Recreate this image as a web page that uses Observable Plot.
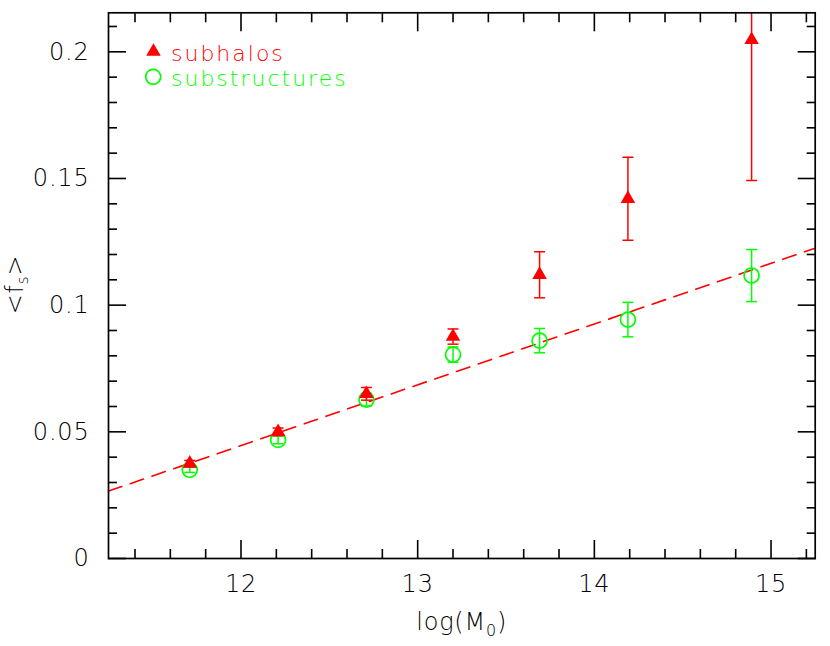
<!DOCTYPE html>
<html><head><meta charset="utf-8">
<script src="https://cdn.jsdelivr.net/npm/d3@7"></script>
<script src="https://cdn.jsdelivr.net/npm/@observablehq/plot@0.6"></script>
<style>
html,body{margin:0;padding:0;background:#fff}
svg{display:block}
</style>
</head><body><div id="chart"></div>
<script>
// ---- data ----
const massBins      = [11.71, 12.21, 12.71, 13.20, 13.69, 14.19, 14.89];
const subhaloFs     = [0.0375, 0.0500, 0.0650, 0.0876, 0.1120, 0.1420, 0.2047];
const subhaloErr    = [0.0012, 0.0015, 0.0025, 0.0030, 0.0091, 0.0164, 0.0555];
const substructFs   = [0.0350, 0.0468, 0.0627, 0.0805, 0.0860, 0.0943, 0.1117];
const substructErr  = [0.0010, 0.0015, 0.0025, 0.0030, 0.0048, 0.0068, 0.0103];
const fitX = [11.25, 15.25];
const fitY = [0.0266, 0.1225];
const xDomain = [11.25, 15.25];
const yDomain = [0, 0.2154];
const xMajorTicks = [12, 13, 14, 15];
const xTickLabels = ["12", "13", "14", "15"];
const xMinorTicks = [11.4, 11.6, 11.8, 12.2, 12.4, 12.6, 12.8, 13.2, 13.4, 13.6, 13.8, 14.2, 14.4, 14.6, 14.8, 15.2];
const yMajorTicks = [0, 0.05, 0.1, 0.15, 0.2];
const yTickLabels = ["0", "0.05", "0.1", "0.15", "0.2"];
const yMinorTicks = [0.01, 0.02, 0.03, 0.04, 0.06, 0.07, 0.08, 0.09, 0.11, 0.12, 0.13, 0.14, 0.16, 0.17, 0.18, 0.19, 0.21];
const legendLabels = ["subhalos", "substructures"];
const RED = "#ff0000", GREEN = "#00ff00";

// ---- tables ----
const subhalos = massBins.map((x, i) => ({x, y: subhaloFs[i], e: subhaloErr[i]}));
const substructs = massBins.map((x, i) => ({x, y: substructFs[i], e: substructErr[i]}));
const fit = fitX.map((x, i) => ({x, y: fitY[i]}));

const FONT = "'DejaVu Sans', sans-serif";
const capSymbol = {draw(ctx, size) { const r = Math.sqrt(size / Math.PI); ctx.moveTo(-r, 0); ctx.lineTo(r, 0); }};

function errorMarks(data, color) {
  return [
    Plot.ruleX(data, {x: "x", y1: d => d.y - d.e, y2: d => d.y + d.e, stroke: color, strokeWidth: 1.5, clip: true}),
    Plot.dot(data, {x: "x", y: d => d.y - d.e, symbol: capSymbol, r: 5.5, stroke: color, fill: "none", strokeWidth: 1.5, clip: true}),
    Plot.dot(data, {x: "x", y: d => d.y + d.e, symbol: capSymbol, r: 5.5, stroke: color, fill: "none", strokeWidth: 1.5, clip: true})
  ];
}

const tickStyle = {stroke: "black", strokeWidth: 1.6, fill: "none", label: null};

const svg = Plot.plot({
  width: 830, height: 646,
  marginLeft: 108, marginRight: 15.3, marginTop: 12.3, marginBottom: 88,
  style: {fontFamily: FONT, background: "white", color: "black"},
  x: {domain: xDomain},
  y: {domain: yDomain},
  marks: [
    Plot.line(fit, {x: "x", y: "y", stroke: RED, strokeWidth: 1.6, strokeDasharray: "14,9"}),
    ...errorMarks(substructs, GREEN),
    Plot.dot(substructs, {x: "x", y: "y", r: 7.5, stroke: GREEN, fill: "none", strokeWidth: 1.7}),
    ...errorMarks(subhalos, RED),
    Plot.dot(subhalos, {x: "x", y: "y", symbol: "triangle", r: 5.4, fill: RED, stroke: "none", clip: true}),
    // legend
    Plot.dot([legendLabels[0]], {frameAnchor: "top-left", dx: 45, dy: 38.8, symbol: "triangle", r: 5.4, fill: RED, stroke: "none"}),
    Plot.dot([legendLabels[1]], {frameAnchor: "top-left", dx: 44.7, dy: 64, r: 7.5, stroke: GREEN, fill: "none", strokeWidth: 1.7}),
    Plot.text([legendLabels[0]], {frameAnchor: "top-left", dx: 62.5, dy: 33, text: d => d, textAnchor: "start", fill: RED, fontSize: 22, fontWeight: 200}),
    Plot.text([legendLabels[1]], {frameAnchor: "top-left", dx: 62.5, dy: 57.5, text: d => d, textAnchor: "start", fill: GREEN, fontSize: 22, fontWeight: 200}),
    // frame
    Plot.frame({stroke: "black", strokeWidth: 1.7}),
    // inward ticks on all sides
    Plot.axisX({...tickStyle, anchor: "bottom", ticks: xMajorTicks, tickSize: -18}),
    Plot.axisX({...tickStyle, anchor: "bottom", ticks: xMinorTicks, tickSize: -9}),
    Plot.axisX({...tickStyle, anchor: "top", ticks: xMajorTicks, tickSize: -18}),
    Plot.axisX({...tickStyle, anchor: "top", ticks: xMinorTicks, tickSize: -9}),
    Plot.axisY({...tickStyle, anchor: "left", ticks: yMajorTicks, tickSize: -18}),
    Plot.axisY({...tickStyle, anchor: "left", ticks: yMinorTicks, tickSize: -9}),
    Plot.axisY({...tickStyle, anchor: "right", ticks: yMajorTicks, tickSize: -18}),
    Plot.axisY({...tickStyle, anchor: "right", ticks: yMinorTicks, tickSize: -9}),
    // tick labels
    Plot.axisX({anchor: "bottom", ticks: xMajorTicks, tickSize: 0, tickPadding: 16, fontSize: 24, fontWeight: 200, label: null,
      tickFormat: d => xTickLabels[xMajorTicks.indexOf(d)]}),
    Plot.axisY({anchor: "left", ticks: yMajorTicks, tickSize: 0, tickPadding: 19, fontSize: 24, fontWeight: 200, label: null,
      tickFormat: d => yTickLabels[yMajorTicks.indexOf(d)]})
  ]
});

// axis titles with subscripts
const s = d3.select(svg);
const xt = s.append("text").attr("x", 461.7).attr("y", 630).attr("text-anchor", "middle")
  .attr("font-family", FONT).attr("font-size", 24).attr("font-weight", 200).attr("fill", "black");
xt.append("tspan").text("log(M");
xt.append("tspan").attr("font-size", 16).attr("dy", 6).text("0");
xt.append("tspan").attr("dy", -6).text(")");

const yt = s.append("text").attr("transform", "translate(23,284.5) rotate(-90)").attr("text-anchor", "middle")
  .attr("font-family", FONT).attr("font-size", 24).attr("font-weight", 200).attr("fill", "black");
yt.append("tspan").text("<f");
yt.append("tspan").attr("font-size", 15).attr("dy", 5).text("s");
yt.append("tspan").attr("dy", -5).text(">");

s.selectAll("text").style("letter-spacing", "0.8px");
s.selectAll("g[aria-label='text'] text").style("letter-spacing", "2px");
document.getElementById("chart").appendChild(svg);
</script>
</body></html>
